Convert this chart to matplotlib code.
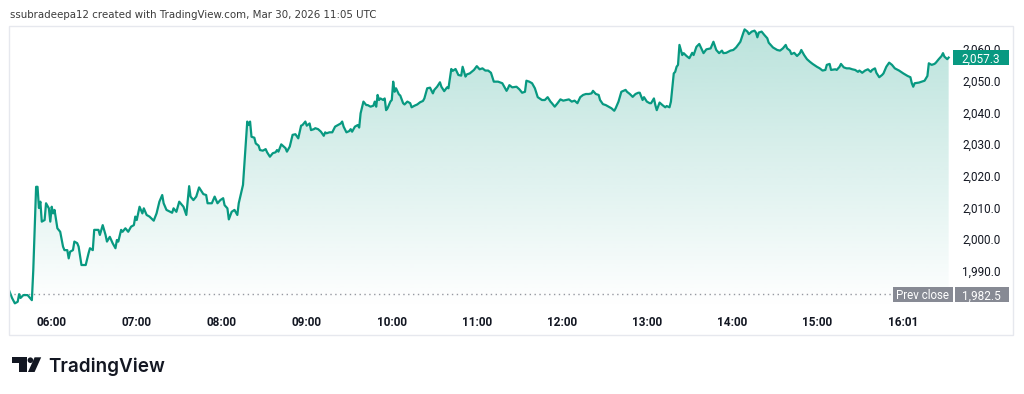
import matplotlib
matplotlib.use("Agg")
import matplotlib.pyplot as plt
import numpy as np
from matplotlib.patches import Rectangle, Polygon, Circle
from matplotlib import transforms

# ---------------- data ----------------
minutes = [330, 332, 334, 336, 337, 338, 340, 343, 346, 347, 349, 350, 351, 352, 353, 355, 356, 358, 359, 360,
           361, 362, 364, 366, 368, 369, 371, 372, 373, 375, 376, 378, 379, 381, 383, 384, 386, 387, 389, 390,
           393, 394, 396, 398, 399, 401, 403, 405, 406, 407, 409, 410, 412, 414, 416, 418, 419, 420, 422, 424,
           425, 427, 429, 432, 434, 436, 438, 439, 441, 445, 446, 448, 450, 453, 455, 457, 458, 460, 462, 464,
           466, 467, 469, 470, 473, 475, 477, 479, 481, 482, 484, 485, 487, 489, 491, 492, 495, 498, 499, 500,
           501, 503, 504, 506, 507, 509, 511, 512, 514, 516, 518, 519, 520, 522, 523, 525, 526, 528, 530, 532,
           534, 536, 537, 539, 540, 542, 543, 545, 546, 548, 550, 552, 553, 554, 556, 558, 560, 562, 564, 565,
           566, 568, 570, 571, 572, 574, 576, 577, 578, 580, 582, 583, 585, 587, 588, 589, 590, 591, 592, 594,
           595, 596, 597, 599, 600, 601, 602, 603, 605, 606, 608, 609, 611, 613, 614, 616, 618, 620, 622, 623,
           625, 627, 629, 630, 632, 634, 635, 637, 639, 640, 642, 643, 645, 647, 649, 650, 652, 653, 655, 658,
           660, 662, 664, 666, 668, 670, 672, 675, 678, 681, 682, 683, 685, 688, 690, 692, 694, 695, 697, 699,
           701, 703, 706, 708, 710, 712, 713, 715, 717, 719, 721, 723, 725, 727, 729, 731, 733, 735, 737, 739,
           741, 742, 744, 746, 747, 749, 751, 753, 755, 757, 758, 760, 762, 765, 766, 768, 770, 772, 774, 775,
           777, 778, 780, 782, 783, 785, 786, 787, 789, 791, 793, 794, 796, 797, 799, 800, 801, 802, 803, 805,
           806, 808, 810, 812, 813, 815, 817, 819, 820, 822, 825, 827, 829, 831, 833, 834, 836, 839, 841, 843,
           846, 848, 849, 851, 852, 854, 856, 857, 858, 859, 861, 863, 865, 866, 869, 872, 874, 876, 878, 879,
           881, 882, 884, 886, 888, 889, 891, 893, 895, 897, 900, 902, 904, 906, 907, 909, 910, 913, 914, 916,
           917, 919, 921, 923, 925, 927, 929, 930, 932, 934, 936, 938, 939, 941, 942, 944, 946, 947, 949, 951,
           953, 955, 958, 961, 964, 966, 967, 968, 969, 972, 974, 976, 978, 979, 981, 983, 984, 986, 988, 989,
           990, 992, 993]

prices = [1983.7, 1981.4, 1979.7, 1980.2, 1982.6, 1981.4, 1982.3, 1982.3, 1980.7, 1990.2, 2016.5, 2016.5, 2009.8, 2011.8, 2005.5, 2006.0, 2011.3, 2009.7, 2005.5, 2010.2,
          2008.1, 2009.2, 2003.4, 2002.3, 1997.6, 1996.5, 1996.5, 1993.9, 1996.0, 1996.5, 1999.2, 1998.7, 1997.6, 1991.8, 1991.8, 1991.8, 1995.5, 1997.1, 1996.5, 2002.9,
          2002.9, 2001.3, 2004.4, 2001.3, 1999.2, 2000.7, 1998.7, 1997.1, 1999.7, 1999.2, 2002.9, 2002.3, 2003.4, 2002.3, 2003.9, 2004.4, 2007.1, 2006.0, 2010.2, 2008.1,
          2009.7, 2007.6, 2007.1, 2005.8, 2008.1, 2011.8, 2013.9, 2011.3, 2009.2, 2008.3, 2009.7, 2008.6, 2011.8, 2010.2, 2007.6, 2016.7, 2013.4, 2012.3, 2013.4, 2016.3,
          2014.9, 2014.2, 2013.9, 2011.3, 2011.3, 2013.4, 2011.3, 2012.3, 2012.9, 2010.7, 2009.7, 2006.2, 2008.6, 2009.2, 2007.6, 2011.3, 2017.1, 2037.1, 2036.0, 2037.1,
          2032.3, 2032.0, 2030.2, 2029.5, 2028.1, 2027.9, 2028.4, 2027.4, 2026.0, 2027.1, 2027.4, 2028.1, 2027.6, 2029.9, 2029.5, 2028.7, 2027.6, 2029.2, 2032.9, 2033.1,
          2031.8, 2035.8, 2036.0, 2037.1, 2035.8, 2036.5, 2034.4, 2034.7, 2035.0, 2034.7, 2033.9, 2032.6, 2033.7, 2033.4, 2033.7, 2033.7, 2035.5, 2036.0, 2036.5, 2037.1,
          2035.5, 2033.7, 2034.1, 2034.7, 2033.9, 2035.5, 2036.0, 2035.2, 2039.7, 2043.4, 2042.3, 2042.3, 2041.8, 2042.1, 2043.4, 2041.8, 2045.5, 2043.9, 2044.4, 2043.9,
          2044.4, 2040.7, 2041.3, 2043.4, 2043.9, 2049.7, 2046.5, 2047.6, 2045.7, 2045.3, 2042.9, 2042.5, 2043.4, 2042.9, 2041.6, 2042.1, 2042.5, 2043.2, 2043.6, 2044.4,
          2047.6, 2047.8, 2046.0, 2047.1, 2048.1, 2049.5, 2048.1, 2046.7, 2047.9, 2047.6, 2053.7, 2053.1, 2053.7, 2051.8, 2051.6, 2054.4, 2051.3, 2052.0, 2052.3, 2053.4,
          2054.6, 2053.6, 2053.9, 2053.2, 2053.2, 2052.5, 2049.7, 2049.7, 2049.2, 2046.8, 2047.6, 2048.6, 2047.9, 2048.1, 2047.3, 2046.2, 2046.5, 2050.0, 2049.7, 2049.2,
          2047.6, 2044.8, 2043.9, 2043.9, 2044.8, 2043.4, 2042.9, 2041.8, 2042.9, 2044.1, 2043.7, 2043.9, 2044.1, 2043.4, 2043.7, 2042.9, 2044.8, 2045.5, 2045.8, 2045.8,
          2046.0, 2046.8, 2045.8, 2045.5, 2043.9, 2042.6, 2042.3, 2041.8, 2041.3, 2040.5, 2041.3, 2043.4, 2046.5, 2047.1, 2046.5, 2045.8, 2044.9, 2045.8, 2046.2, 2046.2,
          2043.9, 2044.8, 2043.4, 2042.9, 2042.9, 2044.4, 2042.3, 2040.7, 2043.1, 2042.3, 2041.6, 2042.0, 2041.6, 2043.4, 2052.3, 2052.8, 2054.4, 2055.0, 2061.3, 2058.1,
          2058.7, 2057.8, 2057.1, 2058.8, 2058.1, 2060.7, 2061.6, 2059.7, 2058.7, 2059.9, 2060.2, 2062.3, 2059.7, 2058.7, 2059.5, 2058.7, 2058.8, 2059.5, 2059.7, 2060.5,
          2062.3, 2065.0, 2066.2, 2065.5, 2064.7, 2065.5, 2065.8, 2065.2, 2063.7, 2065.2, 2065.5, 2064.4, 2063.4, 2062.0, 2060.5, 2059.7, 2059.5, 2060.2, 2061.3, 2060.2,
          2059.5, 2058.4, 2058.8, 2057.8, 2058.7, 2059.7, 2058.1, 2056.8, 2056.0, 2055.3, 2054.4, 2053.9, 2053.2, 2053.4, 2055.0, 2055.3, 2053.4, 2053.6, 2053.4, 2054.4,
          2055.3, 2054.2, 2053.9, 2053.9, 2053.6, 2053.4, 2052.8, 2053.2, 2052.5, 2053.2, 2053.6, 2052.8, 2053.4, 2053.9, 2052.5, 2051.1, 2051.8, 2052.3, 2054.4, 2055.7,
          2055.0, 2053.9, 2053.2, 2052.3, 2051.5, 2051.1, 2049.2, 2048.1, 2049.2, 2049.4, 2049.7, 2050.0, 2051.5, 2055.5, 2055.0, 2055.3, 2055.7, 2056.8, 2057.8, 2058.7,
          2057.6, 2056.8, 2057.3]

prev_close = 1982.5
last_price = 2057.3
price_ticks = [1990, 2000, 2010, 2020, 2030, 2040, 2050, 2060]
time_tick_minutes = [360, 420, 480, 540, 600, 660, 720, 780, 840, 900, 961]
time_tick_labels = ["06:00", "07:00", "08:00", "09:00", "10:00", "11:00",
                    "12:00", "13:00", "14:00", "15:00", "16:01"]
header = "ssubradeepa12 created with TradingView.com, Mar 30, 2026 11:05 UTC"

# ---------------- style ----------------
W, H = 1024, 394
LINE = "#089981"
TEXT = "#131722"
GRAY_BOX = "#878a94"

fig = plt.figure(figsize=(W / 100, H / 100), dpi=100)
fig.patch.set_facecolor("white")

# pane in pixel terms
pl, pr, pt, pb = 9, 952, 26, 308
ax = fig.add_axes([pl / W, (H - pb) / H, (pr - pl) / W, (pb - pt) / H])
ax.set_facecolor("none")
for s in ax.spines.values():
    s.set_visible(False)

# scale: 06:00 at x=51.7px, 1.417 px per minute; 2050 at y=80.7px, 3.167 px per unit
ppm, ppu = 1.417, 3.167
xmin = 360 - (51.7 - pl) / ppm
xmax = 360 + (pr - 51.7) / ppm
ytop = 2050 + (80.7 - pt) / ppu
ybot = 2050 - (pb - 80.7) / ppu
ax.set_xlim(xmin, xmax)
ax.set_ylim(ybot, ytop)

# gradient fill under the line
verts = [(minutes[0], ybot)] + list(zip(minutes, prices)) + [(minutes[-1], ybot)]
clip = Polygon(verts, closed=True, facecolor="none", edgecolor="none")
ax.add_patch(clip)
n = 256
alpha = np.linspace(0.28, 0.0, n)
grad = np.zeros((n, 1, 4))
grad[:, 0, 0] = 8 / 255
grad[:, 0, 1] = 153 / 255
grad[:, 0, 2] = 129 / 255
grad[:, 0, 3] = alpha
im = ax.imshow(grad, extent=[xmin, xmax, ybot, ytop], aspect="auto", origin="upper",
               interpolation="bilinear", zorder=1)
im.set_clip_path(clip)

# prev close dotted line
ax.axhline(prev_close, color="#9598a1", lw=1.0, linestyle=(0, (1, 2.5)), zorder=2)

ax.plot(minutes, prices, color=LINE, lw=1.6, solid_joinstyle="round", zorder=3)

# axes ticks
ax.set_xticks(time_tick_minutes)
ax.set_xticklabels(time_tick_labels)
ax.tick_params(axis="x", length=0, pad=6, labelsize=8.5, labelcolor=TEXT)
for lab in ax.get_xticklabels():
    lab.set_fontfamily("Roboto")
    lab.set_fontweight(600)

ax.yaxis.tick_right()
ax.set_yticks(price_ticks)
ax.set_yticklabels([f"{v:,.1f}" for v in price_ticks])
ax.tick_params(axis="y", length=0, pad=7.5, labelsize=8.5, labelcolor=TEXT)
for lab in ax.get_yticklabels():
    lab.set_fontfamily("Roboto")

# overlay in pixel coordinates
ov = fig.add_axes([0, 0, 1, 1])
ov.set_xlim(0, W)
ov.set_ylim(H, 0)
ov.axis("off")
ov.set_zorder(5)
ov.patch.set_alpha(0)

ov.add_patch(Rectangle((pl, pt), 1013 - pl, 335 - pt, fill=False, edgecolor="#e6e8ee", lw=1.0))

bt = transforms.blended_transform_factory(ov.transData, ax.transData)
bh = 15 / ppu
ov.add_patch(Rectangle((953, last_price - bh / 2), 56, bh, transform=bt,
                       facecolor=LINE, edgecolor="none"))
ov.text(981, last_price, f"{last_price:,.1f}", transform=bt, ha="center", va="center_baseline",
        color="white", fontsize=8.5, family="Roboto")
ov.add_patch(Rectangle((893, prev_close - bh / 2), 59.5, bh, transform=bt,
                       facecolor=GRAY_BOX, edgecolor="none"))
ov.text(922.7, prev_close, "Prev close", transform=bt, ha="center", va="center_baseline",
        color="white", fontsize=8.3, family="Roboto")
ov.add_patch(Rectangle((954.5, prev_close - bh / 2), 54.5, bh, transform=bt,
                       facecolor=GRAY_BOX, edgecolor="none"))
ov.text(981.7, prev_close, f"{prev_close:,.1f}", transform=bt, ha="center", va="center_baseline",
        color="white", fontsize=8.5, family="Roboto")

# header
ht = ov.text(10, 15, header, ha="left", va="center", fontsize=8.5, color="#3b3b3b",
             family="DejaVu Sans")

# logo
ov.add_patch(Polygon([(11.7, 357.3), (26.7, 357.3), (26.7, 372), (19.3, 372), (19.3, 362.8), (11.7, 362.8)],
                     closed=True, facecolor=TEXT, edgecolor="none"))
ov.add_patch(Circle((30.4, 360.2), 2.8, facecolor=TEXT, edgecolor="none"))
ov.add_patch(Polygon([(34.6, 357.3), (41.2, 357.3), (34.6, 372), (28.0, 372)],
                     closed=True, facecolor=TEXT, edgecolor="none"))
lt = ov.text(48.3, 372, "TradingView", ha="left", va="baseline", fontsize=13.5, color=TEXT,
             family="Inter", fontweight="semibold")


def fit(t, target):
    fig.canvas.draw()
    r = fig.canvas.get_renderer()
    w = t.get_window_extent(r).width
    t.set_fontsize(t.get_fontsize() * target / w)


fit(ht, 368)
fit(lt, 116.7)

fig.savefig("out.png", dpi=100, facecolor="white")
